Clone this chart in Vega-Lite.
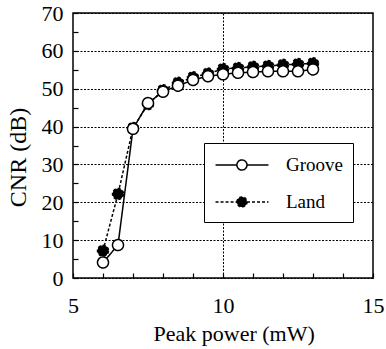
{
  "$schema": "https://vega.github.io/schema/vega-lite/v6.json",
  "width": 300,
  "height": 265,
  "autosize": "none",
  "padding": {"left": 73, "top": 13, "right": 13, "bottom": 71},
  "background": "white",
  "config": {
    "view": {"stroke": "black", "strokeWidth": 1.5},
    "font": "Liberation Serif",
    "axis": {
      "domain": false,
      "labelFont": "Liberation Serif",
      "titleFont": "Liberation Serif",
      "labelColor": "black",
      "titleColor": "black",
      "titleFontWeight": "normal",
      "tickColor": "black",
      "tickWidth": 1.2,
      "tickSize": -5,
      "gridColor": "black",
      "gridDash": [2, 1.5],
      "gridWidth": 1,
      "labelOverlap": false,
      "labelFlush": false
    },
    "legend": {
      "orient": "none",
      "legendX": 131,
      "legendY": 130,
      "strokeColor": "black",
      "fillColor": "white",
      "padding": 10,
      "labelFont": "Liberation Serif",
      "labelColor": "black",
      "symbolStrokeWidth": 1.5
    }
  },
  "data": {
    "values": [
      {"p": 6, "cnr": 7.2, "s": "Land"},
      {"p": 6.5, "cnr": 22.2, "s": "Land"},
      {"p": 7, "cnr": 39.6, "s": "Land"},
      {"p": 7.5, "cnr": 45.9, "s": "Land"},
      {"p": 8, "cnr": 49.6, "s": "Land"},
      {"p": 8.5, "cnr": 51.6, "s": "Land"},
      {"p": 9, "cnr": 53.0, "s": "Land"},
      {"p": 9.5, "cnr": 54.0, "s": "Land"},
      {"p": 10, "cnr": 55.2, "s": "Land"},
      {"p": 10.5, "cnr": 55.5, "s": "Land"},
      {"p": 11, "cnr": 55.8, "s": "Land"},
      {"p": 11.5, "cnr": 56.0, "s": "Land"},
      {"p": 12, "cnr": 56.3, "s": "Land"},
      {"p": 12.5, "cnr": 56.5, "s": "Land"},
      {"p": 13, "cnr": 56.7, "s": "Land"},
      {"p": 6, "cnr": 4.1, "s": "Groove"},
      {"p": 6.5, "cnr": 8.7, "s": "Groove"},
      {"p": 7, "cnr": 39.4, "s": "Groove"},
      {"p": 7.5, "cnr": 46.2, "s": "Groove"},
      {"p": 8, "cnr": 49.2, "s": "Groove"},
      {"p": 8.5, "cnr": 50.8, "s": "Groove"},
      {"p": 9, "cnr": 52.3, "s": "Groove"},
      {"p": 9.5, "cnr": 53.3, "s": "Groove"},
      {"p": 10, "cnr": 53.8, "s": "Groove"},
      {"p": 10.5, "cnr": 54.2, "s": "Groove"},
      {"p": 11, "cnr": 54.4, "s": "Groove"},
      {"p": 11.5, "cnr": 54.6, "s": "Groove"},
      {"p": 12, "cnr": 54.6, "s": "Groove"},
      {"p": 12.5, "cnr": 54.6, "s": "Groove"},
      {"p": 13, "cnr": 55.1, "s": "Groove"}
    ]
  },
  "encoding": {
    "x": {
      "field": "p",
      "type": "quantitative",
      "scale": {"domain": [5, 15], "nice": false, "zero": false},
      "axis": {
        "title": "Peak power (mW)",
        "titleFontSize": 22,
        "titleAnchor": "start",
        "titleAlign": "left",
        "titleX": 80,
        "titleY": 62,
        "titleBaseline": "alphabetic",
        "labelFontSize": 22,
        "labelPadding": 22,
        "values": [5, 6, 7, 8, 9, 10, 11, 12, 13, 14, 15],
        "labelExpr": "datum.value % 5 == 0 ? datum.label : ''",
        "grid": true,
        "gridOpacity": {"condition": {"test": "datum.value == 10", "value": 1}, "value": 0}
      }
    },
    "y": {
      "field": "cnr",
      "type": "quantitative",
      "scale": {"domain": [0, 70], "nice": false},
      "axis": {
        "title": "CNR (dB)",
        "titleFontSize": 24,
        "titleX": -55,
        "titleY": 144,
        "titleAlign": "center",
        "titleBaseline": "middle",
        "labelFontSize": 22,
        "labelPadding": 15,
        "values": [0, 5, 10, 15, 20, 25, 30, 35, 40, 45, 50, 55, 60, 65, 70],
        "labelExpr": "datum.value % 10 == 0 ? datum.label : ''",
        "grid": true,
        "gridOpacity": {"condition": {"test": "datum.value % 10 == 0", "value": 1}, "value": 0}
      }
    }
  },
  "layer": [
    {
      "mark": {"type": "line", "color": "black", "strokeWidth": 1.5},
      "encoding": {
        "detail": {"field": "s"},
        "strokeDash": {
          "field": "s",
          "type": "nominal",
          "scale": {"domain": ["Groove", "Land"], "range": [[1, 0], [3, 2]]},
          "legend": {"title": null}
        }
      }
    },
    {
      "mark": {"type": "point", "filled": true, "stroke": "black", "strokeWidth": 1.5, "size": 121, "opacity": 1},
      "encoding": {
        "fill": {
          "field": "s",
          "type": "nominal",
          "scale": {"domain": ["Groove", "Land"], "range": ["white", "black"]},
          "legend": {
            "title": null,
            "labelFont": "Liberation Serif",
            "labelFontSize": 19,
            "symbolType": "M-0.95,0H0.99M1.91,0H3.86M0.99,0A0.46,0.46,0,1,1,1.91,0A0.46,0.46,0,1,1,0.99,0",
            "symbolSize": 484,
            "symbolStrokeColor": "black",
            "labelOffset": 48,
            "rowPadding": 15
          }
        },
        "strokeDash": {
          "field": "s",
          "type": "nominal",
          "scale": {"domain": ["Groove", "Land"], "range": [[1, 0], [3, 2]]},
          "legend": {"title": null}
        }
      }
    }
  ]
}
